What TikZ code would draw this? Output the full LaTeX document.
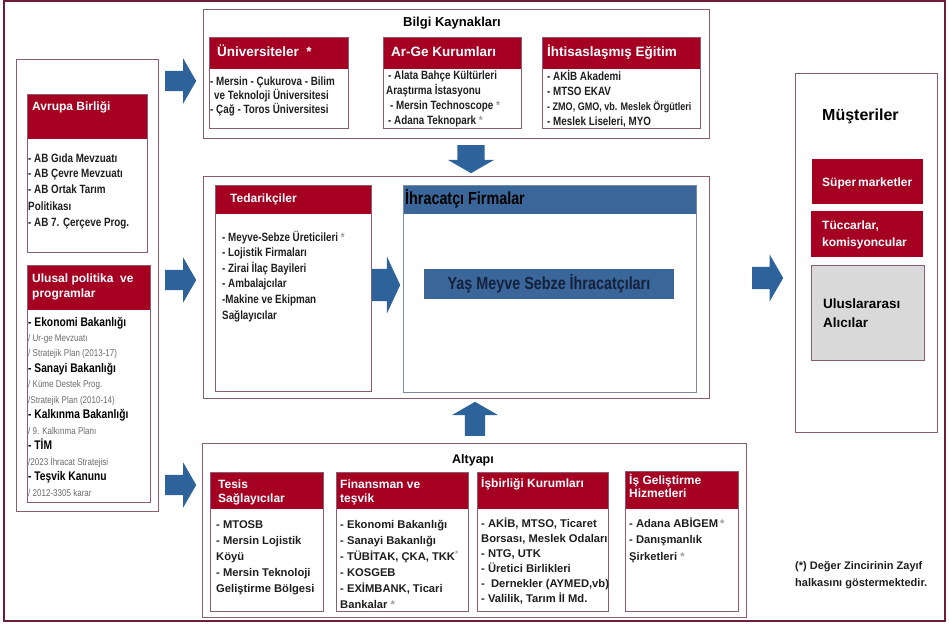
\documentclass[tikz,border=0pt]{standalone}
\usepackage{fontspec}
\setmainfont{Liberation Sans}
\newfontfamily\narrowsf{Liberation Sans}[FakeStretch=0.82]
\usetikzlibrary{shapes.arrows}

\definecolor{frameRed}{HTML}{6E1E3C}
\definecolor{boxLine}{HTML}{8C5C70}
\definecolor{headRed}{HTML}{A50021}
\definecolor{arrowBlue}{HTML}{2E629B}
\definecolor{headBlue}{HTML}{3A6699}
\definecolor{blueLine}{HTML}{7A8AA0}
\definecolor{navyText}{HTML}{14213D}
\definecolor{subGray}{HTML}{6A6A6A}
\definecolor{starGray}{HTML}{9A9A9A}
\definecolor{bodyText}{HTML}{1E1E1E}
\definecolor{buyerGray}{HTML}{D9D9D9}

\newcommand{\wk}{{\color{starGray}*}}
\newcommand{\subln}[1]{{\mdseries\fontsize{9.8}{10}\selectfont\color{subGray}#1}}

% multi-line nodes sit on the baseline of their last line
\tikzset{
  grp/.style={draw=boxLine, line width=0.9pt},
  cell/.style={draw=boxLine, line width=0.8pt},
  headtxt/.style={anchor=base west, inner sep=0pt, align=left, text=white,
    font=\bfseries\fontsize{12}{14}\selectfont},
  bodytxt/.style={anchor=base west, inner sep=0pt, align=left, text=bodyText,
    font=\narrowsf\bfseries\fontsize{12}{15.5}\selectfont},
  lowtxt/.style={bodytxt, font=\bfseries\fontsize{11.2}{16}\selectfont},
  blockarrow/.style={single arrow, fill=arrowBlue, anchor=tail, inner xsep=0pt,
    single arrow tip angle=120},
  sidearrow/.style={blockarrow, inner ysep=10pt, single arrow head extend=12.5pt,
    minimum height=31pt}
}

\begin{document}
\begin{tikzpicture}[x=1pt,y=-1pt]
  \useasboundingbox (0,0) rectangle (949,628);
  \draw[frameRed, line width=1.2pt] (4,1) rectangle (945,621);

  % left column
  \draw[grp] (16,59) rectangle (158,511);
  \fill[headRed] (27,94) rectangle (147,139);
  \draw[cell] (27,94) rectangle (147,252);
  \node[headtxt] (abHead) at (32,111) {Avrupa Birliği};
  \node[bodytxt, font=\narrowsf\bfseries\fontsize{12}{16}\selectfont] (abBody) at (28,226)
    {- AB Gıda Mevzuatı\\- AB Çevre Mevzuatı\\- AB Ortak Tarım\\Politikası\\- AB 7. Çerçeve Prog.};

  \fill[headRed] (27,265) rectangle (150,310);
  \draw[cell] (27,265) rectangle (150,502);
  \node[headtxt, font=\bfseries\fontsize{12}{15}\selectfont] (ulusHead) at (32,297)
    {Ulusal politika\ \ ve\\programlar};
  \node[bodytxt, text=black, font=\narrowsf\bfseries\fontsize{12.5}{15.45}\selectfont] (ulusBody) at (28,496)
    {- Ekonomi Bakanlığı\\\subln{/ Ur-ge Mevzuatı}\\\subln{/ Stratejik Plan (2013-17)}\\
     - Sanayi Bakanlığı\\\subln{/ Küme Destek Prog.}\\\subln{/Stratejik Plan (2010-14)}\\
     - Kalkınma Bakanlığı\\\subln{/ 9. Kalkınma Planı}\\- TİM\\\subln{/2023 İhracat Stratejisi}\\
     - Teşvik Kanunu\\\subln{/ 2012-3305 karar}};

  \node[sidearrow] (arrTop) at (165,81) {};
  \node[sidearrow] (arrMid) at (165,280) {};
  \node[sidearrow] (arrLow) at (165,485) {};

  % Bilgi Kaynaklari
  \draw[grp] (203,9) rectangle (709,138);
  \node[font=\bfseries\fontsize{13}{15}\selectfont] (bilgi) at (452,23) {Bilgi Kaynakları};

  \fill[headRed] (209,37) rectangle (348,69);
  \draw[cell] (209,37) rectangle (348,128);
  \node[headtxt, font=\bfseries\fontsize{13.5}{15}\selectfont] (uniHead) at (217,57) {Üniversiteler\ \ *};
  \node[bodytxt, font=\narrowsf\bfseries\fontsize{12}{14}\selectfont] (uniBody) at (210,114)
    {- Mersin - Çukurova - Bilim\\\hspace*{4pt}ve Teknoloji Üniversitesi\\- Çağ - Toros Üniversitesi};

  \fill[headRed] (383,37) rectangle (521,69);
  \draw[cell] (383,37) rectangle (521,128);
  \node[headtxt, font=\bfseries\fontsize{13.5}{15}\selectfont] (argeHead) at (391,57) {Ar-Ge Kurumları};
  \node[bodytxt, font=\narrowsf\bfseries\fontsize{12}{15.3}\selectfont] (argeBody) at (386,125)
    {\,- Alata Bahçe Kültürleri\\Araştırma İstasyonu\\\,\,- Mersin Technoscope \wk\\\,- Adana Teknopark \wk};

  \fill[headRed] (542,37) rectangle (700,69);
  \draw[cell] (542,37) rectangle (700,128);
  \node[headtxt, font=\bfseries\fontsize{13.5}{15}\selectfont] (egitimHead) at (547,57) {İhtisaslaşmış Eğitim};
  \node[bodytxt, font=\narrowsf\bfseries\fontsize{12}{15}\selectfont] (egitimBody) at (547,126)
    {- AKİB Akademi\\- MTSO EKAV\\{\fontsize{11}{15}\selectfont- ZMO, GMO, vb. Meslek Örgütleri}\\- Meslek Liseleri, MYO};

  \node[blockarrow, rotate=-90, inner ysep=13.5pt, single arrow head extend=9.5pt,
    minimum height=28pt] (arrDown) at (471,145) {};

  % degisim zinciri
  \draw[grp] (203,176) rectangle (709,398);
  \fill[headRed] (215,185) rectangle (371,214);
  \draw[cell] (215,185) rectangle (371,391);
  \node[headtxt] (tedHead) at (230,203) {Tedarikçiler};
  \node[bodytxt, font=\narrowsf\bfseries\fontsize{12}{15.6}\selectfont] (tedBody) at (222,319)
    {- Meyve-Sebze Üreticileri \wk\\- Lojistik Firmaları\\- Zirai İlaç Bayileri\\- Ambalajcılar\\
     -Makine ve Ekipman\\Sağlayıcılar};

  \node[blockarrow, inner ysep=16pt, single arrow head extend=12.5pt, single arrow tip angle=130,
    minimum height=28pt] (arrFirma) at (372,285) {};

  \fill[headBlue] (403,185) rectangle (696,214);
  \draw[blueLine, line width=0.8pt] (403,185) rectangle (696,392);
  \node[anchor=base west, inner sep=0pt, font=\narrowsf\bfseries\fontsize{17.5}{19}\selectfont]
    (firmaHead) at (405,205) {İhracatçı Firmalar};
  \fill[headBlue] (424,269) rectangle (674,299);
  \node[text=navyText, font=\narrowsf\bfseries\fontsize{17.5}{19}\selectfont] (yasText) at (549,284)
    {Yaş Meyve Sebze İhracatçıları};

  \node[sidearrow, inner ysep=11pt] (arrOut) at (752,278) {};

  % musteriler
  \draw[grp] (795,73) rectangle (937,432);
  \node[anchor=base west, inner sep=0pt, font=\bfseries\fontsize{16}{18}\selectfont] (musteri) at (822,121) {Müşteriler};
  \fill[headRed] (812,159) rectangle (923,204);
  \node[headtxt] (superm) at (822,187) {Süper\,marketler};
  \fill[headRed] (811,211) rectangle (923,257);
  \node[headtxt, font=\bfseries\fontsize{12}{17}\selectfont] (tuccar) at (822,246) {Tüccarlar,\\komisyoncular};
  \filldraw[fill=buyerGray, draw=boxLine, line width=0.8pt] (811,265) rectangle (924,360);
  \node[headtxt, text=black, font=\bfseries\fontsize{13.5}{19}\selectfont] (ulusAlici) at (823,327)
    {Uluslararası\\Alıcılar};

  \node[blockarrow, rotate=90, inner ysep=10pt, single arrow head extend=13pt,
    minimum height=34pt] (arrUp) at (475,436) {};

  % altyapi
  \draw[grp] (202,443) rectangle (746,617);
  \node[font=\bfseries\fontsize{12.5}{14}\selectfont] (altyapi) at (473,460) {Altyapı};

  \fill[headRed] (210,472) rectangle (323,509);
  \draw[cell] (210,472) rectangle (323,611);
  \node[headtxt, font=\bfseries\fontsize{12}{14}\selectfont] (tesisHead) at (218,502) {Tesis\\Sağlayıcılar};
  \node[lowtxt] (tesisBody) at (216,592)
    {- MTOSB\\- Mersin Lojistik\\Köyü\\- Mersin Teknoloji\\Geliştirme Bölgesi};

  \fill[headRed] (336,472) rectangle (468,509);
  \draw[cell] (336,472) rectangle (468,611);
  \node[headtxt, font=\bfseries\fontsize{12}{14}\selectfont] (finHead) at (340,502) {Finansman ve\\teşvik};
  \node[lowtxt] (finBody) at (340,608)
    {- Ekonomi Bakanlığı\\- Sanayi Bakanlığı\\- TÜBİTAK, ÇKA, TKK\textsuperscript{\wk}\\- KOSGEB\\
     - EXİMBANK, Ticari\\Bankalar \wk};

  \fill[headRed] (477,472) rectangle (608,509);
  \draw[cell] (477,472) rectangle (608,611);
  \node[headtxt] (isbHead) at (481,487) {İşbirliği Kurumları};
  \node[lowtxt, font=\bfseries\fontsize{11.2}{15}\selectfont] (isbBody) at (481,602)
    {- AKİB, MTSO, Ticaret\\Borsası, Meslek Odaları\\- NTG, UTK\\- Üretici Birlikleri\\
     -\ \ Dernekler (AYMED,vb)\\- Valilik, Tarım İl Md.};

  \fill[headRed] (625,471) rectangle (738,509);
  \draw[cell] (625,471) rectangle (738,611);
  \node[headtxt, font=\bfseries\fontsize{12}{13}\selectfont] (isgHead) at (629,497) {İş Geliştirme\\Hizmetleri};
  \node[lowtxt, font=\bfseries\fontsize{11.2}{16.5}\selectfont] (isgBody) at (629,560)
    {- Adana ABİGEM\,\wk\\- Danışmanlık\\Şirketleri \wk};

  \node[anchor=base west, inner sep=0pt, align=left, text=bodyText,
    font=\bfseries\fontsize{11}{17}\selectfont] (note) at (795,586)
    {(*) Değer Zincirinin Zayıf\\halkasını göstermektedir.};

\end{tikzpicture}
\end{document}
